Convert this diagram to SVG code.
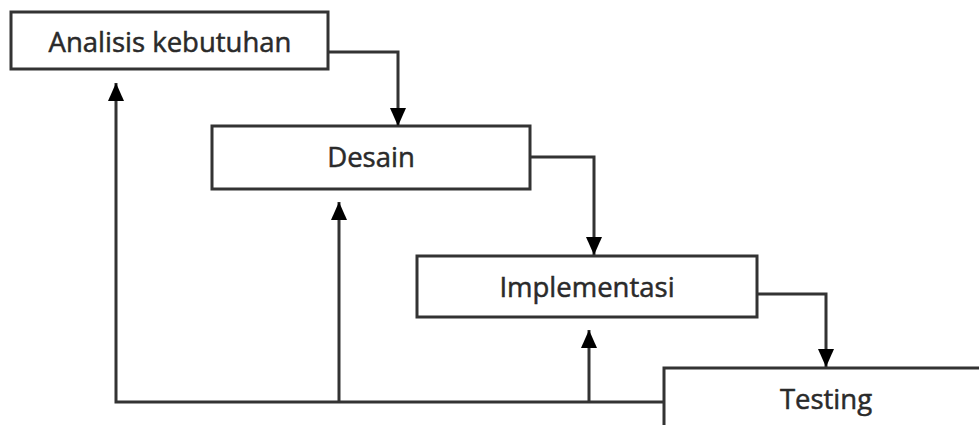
<svg xmlns="http://www.w3.org/2000/svg" width="979" height="425" viewBox="0 0 979 425">
<style>
.box{fill:#fff;stroke:#333;stroke-width:3}
.lbl{font-family:"Open Sans","Liberation Sans",sans-serif;font-size:27.5px;font-weight:400;fill:#2a2a2a;stroke:#2a2a2a;stroke-width:0.5;text-anchor:middle}
.con{fill:none;stroke:#333;stroke-width:3}
</style>
<defs>
<marker id="ah" markerWidth="18" markerHeight="16" refX="18" refY="8" viewBox="0 0 18 16" markerUnits="userSpaceOnUse" orient="auto">
<path d="M0,0 L18,8 L0,16 Z" fill="#000"/>
</marker>
</defs>
<g id="node-analisis"><rect class="box" x="11" y="12" width="317" height="57"/><text class="lbl" x="170" y="52">Analisis kebutuhan</text></g>
<g id="node-desain"><rect class="box" x="212" y="126" width="318" height="63"/><text class="lbl" x="371" y="167">Desain</text></g>
<g id="node-implementasi"><rect class="box" x="417" y="256" width="340" height="61"/><text class="lbl" x="587" y="297">Implementasi</text></g>
<g id="node-testing"><rect class="box" x="664" y="368" width="330" height="80"/><text class="lbl" x="826" y="409">Testing</text></g>
<g id="connectors">
<path class="con" d="M328,52 H398 V126" marker-end="url(#ah)"/>
<path class="con" d="M530,157 H594 V255" marker-end="url(#ah)"/>
<path class="con" d="M757,294 H826 V367" marker-end="url(#ah)"/>
<path class="con" d="M664,402 H116 V83" marker-end="url(#ah)"/>
<path class="con" d="M339,402 V202" marker-end="url(#ah)"/>
<path class="con" d="M589,402 V330" marker-end="url(#ah)"/>
</g>
</svg>
